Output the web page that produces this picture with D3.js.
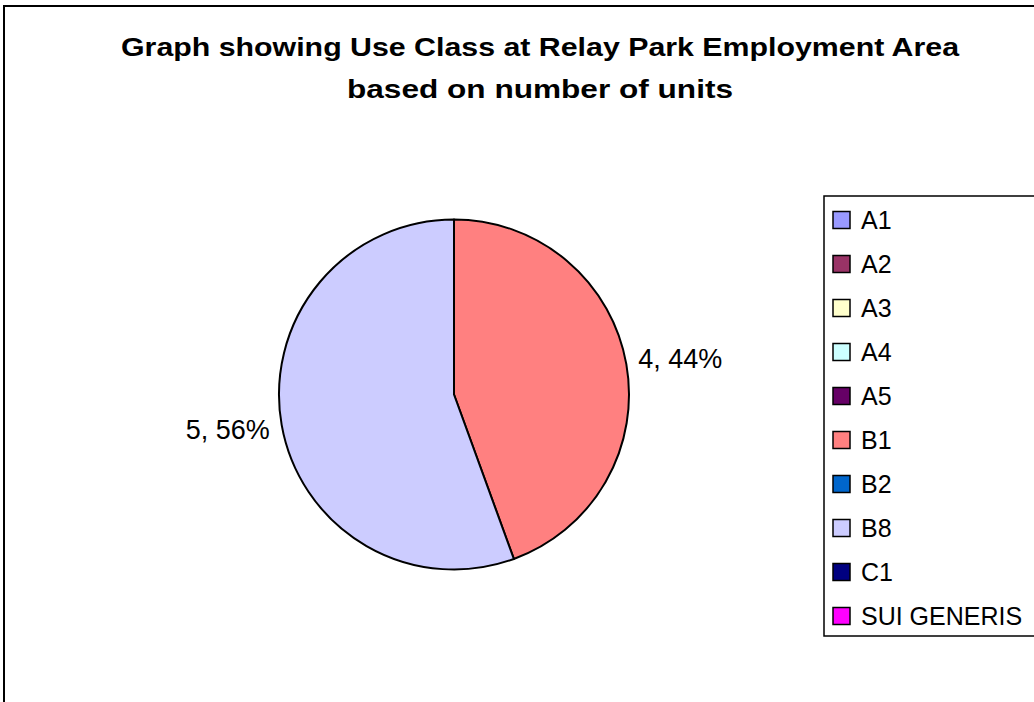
<!DOCTYPE html>
<html>
<head>
<meta charset="utf-8">
<script src="https://cdn.jsdelivr.net/npm/d3@7"></script>
<style>
  html, body { margin: 0; padding: 0; background: #fff; }
  svg { display: block; font-family: Arial, "Liberation Sans", sans-serif; }
</style>
</head>
<body>
<svg id="chart" width="1034" height="702"></svg>
<script>
// Use classes and number of units in each
const categories = ["A1", "A2", "A3", "A4", "A5", "B1", "B2", "B8", "C1", "SUI GENERIS"];
const units = [0, 0, 0, 0, 0, 4, 0, 5, 0, 0];
const colours = ["#9999FF", "#993366", "#FFFFCC", "#CCFFFF", "#660066",
                 "#FF8080", "#0066CC", "#CCCCFF", "#000080", "#FF00FF"];
const titleLines = ["Graph showing Use Class at Relay Park Employment Area",
                    "based on number of units"];
const titleWidths = [838, 386];

const svg = d3.select("#chart");
const W = 1034, H = 702;

// Outer chart frame (right and bottom run past the page edge)
svg.append("rect")
  .attr("x", 4).attr("y", 6)
  .attr("width", W + 20).attr("height", H + 20)
  .attr("fill", "#fff")
  .attr("stroke", "#000")
  .attr("stroke-width", 2);

// Title
svg.append("g")
  .selectAll("text")
  .data(titleLines)
  .join("text")
  .attr("x", 540)
  .attr("y", (d, i) => 56 + i * 42)
  .attr("text-anchor", "middle")
  .attr("font-size", 26)
  .attr("font-weight", "bold")
  .attr("fill", "#000")
  .attr("textLength", (d, i) => titleWidths[i])
  .attr("lengthAdjust", "spacingAndGlyphs")
  .text(d => d);

// Pie
const cx = 454, cy = 394.5, r = 175;
const total = d3.sum(units);
const color = d3.scaleOrdinal().domain(categories).range(colours);
const pie = d3.pie().sort(null).value(d => d.value);
const data = categories.map((c, i) => ({ name: c, value: units[i] }));
const arcs = pie(data).filter(d => d.data.value > 0);
const arc = d3.arc().innerRadius(0).outerRadius(r);

const g = svg.append("g").attr("transform", `translate(${cx},${cy})`);
g.selectAll("path")
  .data(arcs)
  .join("path")
  .attr("d", arc)
  .attr("fill", d => color(d.data.name))
  .attr("stroke", "#000")
  .attr("stroke-width", 2)
  .attr("stroke-linejoin", "round");

// Value labels outside each slice
const labelR = r + 10;
g.selectAll("text.lbl")
  .data(arcs)
  .join("text")
  .attr("class", "lbl")
  .each(function (d) {
    const a = (d.startAngle + d.endAngle) / 2;
    const x = Math.sin(a) * labelR;
    const y = -Math.cos(a) * labelR;
    const right = Math.sin(a) >= 0;
    d3.select(this)
      .attr("x", right ? x + 2 : x - 2)
      .attr("y", y)
      .attr("dy", right ? "0.22em" : "0.47em")
      .attr("text-anchor", right ? "start" : "end");
  })
  .attr("font-size", 27)
  .attr("fill", "#000")
  .text(d => `${d.data.value}, ${Math.round(d.data.value / total * 100)}%`);

// Legend
const legX = 824, legY = 196, legH = 440, rowH = 44;
svg.append("rect")
  .attr("x", legX).attr("y", legY)
  .attr("width", 300).attr("height", legH)
  .attr("fill", "#fff")
  .attr("stroke", "#000")
  .attr("stroke-width", 1.5);

const rows = svg.append("g")
  .selectAll("g")
  .data(categories)
  .join("g")
  .attr("transform", (d, i) => `translate(${legX + 9},${legY + 24 + i * rowH})`);

rows.append("rect")
  .attr("x", 0).attr("y", -8.5)
  .attr("width", 17).attr("height", 17)
  .attr("fill", d => color(d))
  .attr("stroke", "#000")
  .attr("stroke-width", 1.5);

rows.append("text")
  .attr("x", 28)
  .attr("y", 0)
  .attr("dy", "0.36em")
  .attr("font-size", 25)
  .attr("fill", "#000")
  .text(d => d);
</script>
</body>
</html>
